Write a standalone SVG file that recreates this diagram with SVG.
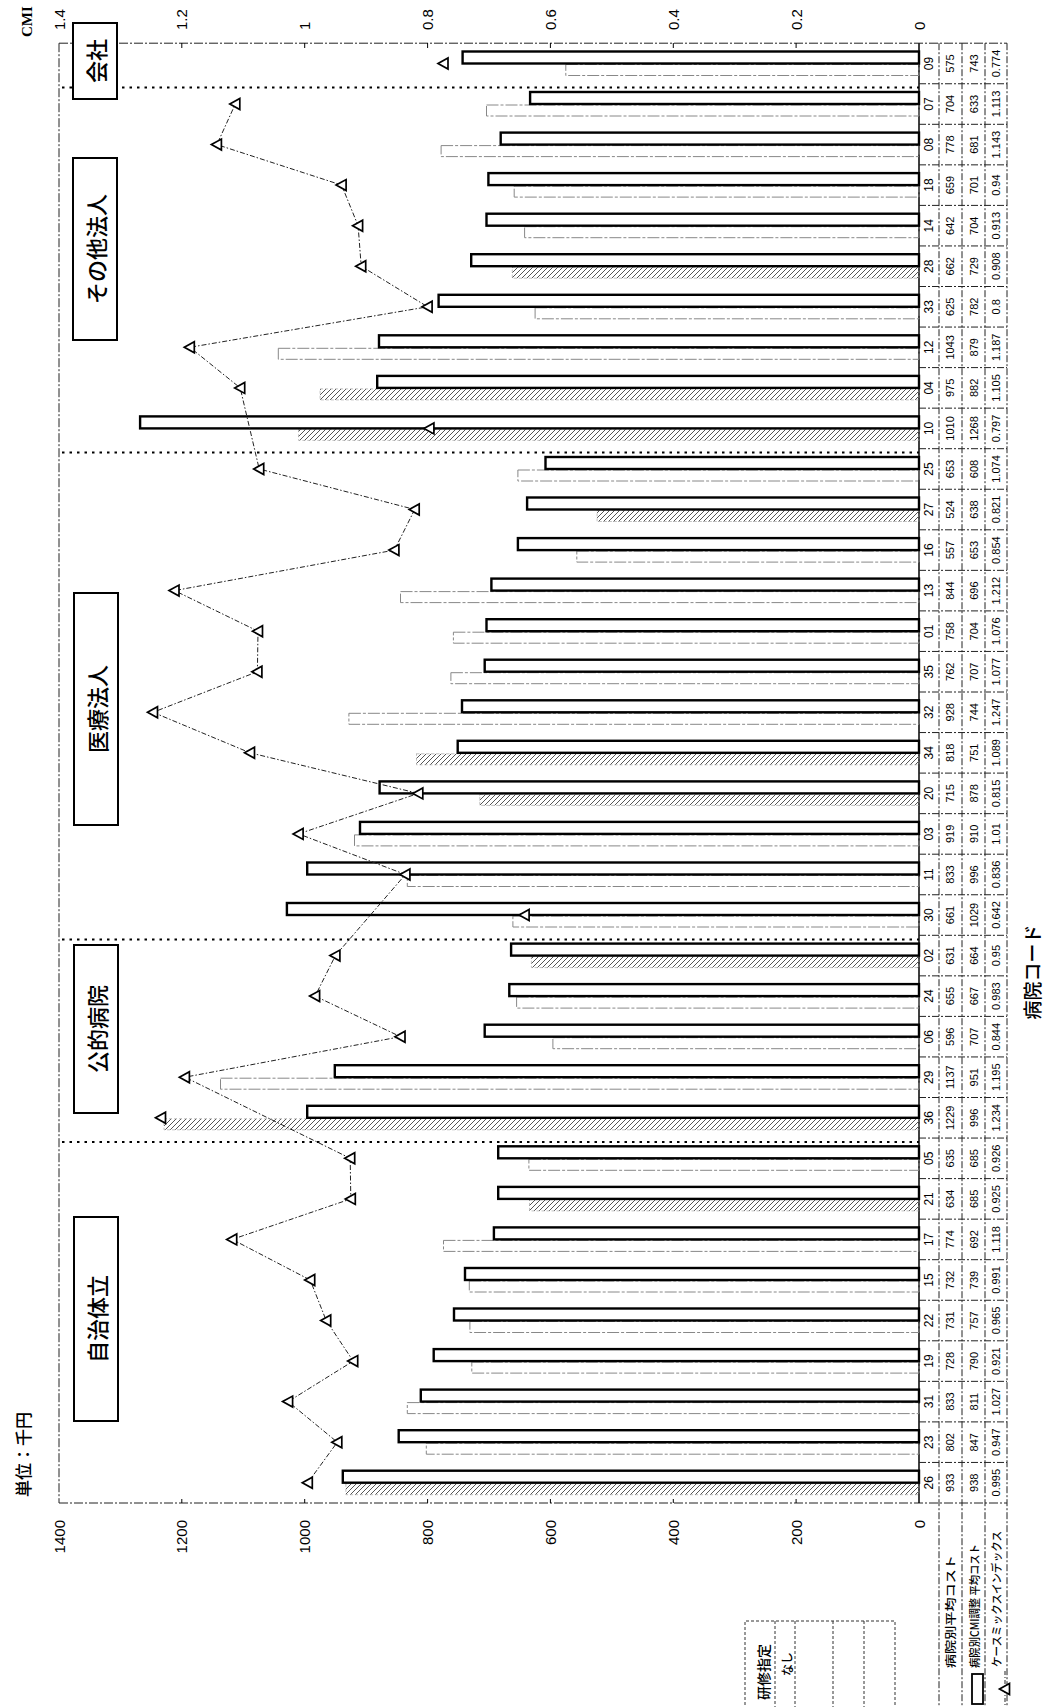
<svg xmlns="http://www.w3.org/2000/svg" width="1053" height="1707" viewBox="0 0 1053 1707">
<defs>
  <pattern id="hatch" patternUnits="userSpaceOnUse" width="5" height="5">
    <path d="M-1,6 L6,-1 M-1,1 L1,-1 M4,6 L6,4" stroke="#555" stroke-width="1"/>
  </pattern>
  <path id="tri" d="M-5.5,0 L4.5,-5.5 L4.5,5.5 Z" fill="#fff" stroke="#000" stroke-width="1.7"/>
</defs>
<style>
  text { fill: #000; }
  .num { font-family: "Liberation Sans", Arial, sans-serif; font-size: 15px; dominant-baseline: central; }
  .jp { font-family: "Noto Sans CJK JP", sans-serif; }
  .lbl { font-family: "Noto Sans CJK JP", sans-serif; font-size: 22px; font-weight: 500; text-anchor: middle; dominant-baseline: central; }
  .tb { font-family: "Liberation Sans", Arial, sans-serif; font-size: 11px; text-anchor: middle; dominant-baseline: central; }
  .cd { font-size: 12px; }
  .hd { font-family: "Noto Sans CJK JP", sans-serif; font-size: 11px; font-weight: 500; dominant-baseline: central; }
  .main { fill: #fff; stroke: #000; stroke-width: 2.4; }
  .hat { fill: url(#hatch); stroke: #999; stroke-width: 0.6; stroke-dasharray: 3 2; }
  .faint { fill: none; stroke: #888; stroke-width: 1; stroke-dasharray: 12 2 3 2; }
  .frame { fill: none; stroke: #222; stroke-width: 1; stroke-dasharray: 9 2 2 2; }
  .grid { fill: none; stroke: #222; stroke-width: 1; stroke-dasharray: 7 2 2 2; }
  .sep { fill: none; stroke: #000; stroke-width: 2; stroke-dasharray: 2.5 5; }
  .box { fill: #fff; stroke: #000; stroke-width: 2; }
</style>
<rect width="1053" height="1707" fill="#fff"/>

<!-- plot frame, value baseline and table rules -->
<g id="frame">
  <path class="frame" d="M59,43.2 V1503"/>
  <path class="frame" d="M59,43.2 H1007"/>
  <path class="frame" d="M59,1503 H1007"/>
  <path d="M919,43.2 V1503" stroke="#000" stroke-width="1.5" fill="none"/>
  <path class="grid" d="M939,43.2 V1707 M962,43.2 V1707 M985,43.2 V1707 M1007,43.2 V1707"/>
  <path class="grid" d="M919,1462.45H1007 M919,1421.9H1007 M919,1381.35H1007 M919,1340.8H1007 M919,1300.25H1007 M919,1259.7H1007 M919,1219.15H1007 M919,1178.6H1007 M919,1138.05H1007 M919,1097.5H1007 M919,1056.95H1007 M919,1016.4H1007 M919,975.85H1007 M919,935.3H1007 M919,894.75H1007 M919,854.2H1007 M919,813.65H1007 M919,773.1H1007 M919,732.55H1007 M919,692H1007 M919,651.45H1007 M919,610.9H1007 M919,570.35H1007 M919,529.8H1007 M919,489.25H1007 M919,448.7H1007 M919,408.15H1007 M919,367.6H1007 M919,327.05H1007 M919,286.5H1007 M919,245.95H1007 M919,205.4H1007 M919,164.85H1007 M919,124.3H1007 M919,83.75H1007"/>
  <!-- ticks: CMI axis along the top, cost axis along the bottom -->
  <path d="M181.8,43 v5 M304.7,43 v5 M427.6,43 v5 M550.4,43 v5 M673.3,43 v5 M796.1,43 v5 M181.8,1503 v-4 M304.7,1503 v-4 M427.6,1503 v-4 M550.4,1503 v-4 M673.3,1503 v-4 M796.1,1503 v-4" stroke="#000" stroke-width="1"/>
  <!-- group separators -->
  <path class="sep" d="M62,87.5 H919 M62,452.5 H919 M62,939.5 H919 M62,1142 H919"/>
</g>

<!-- cost axis (千円) -->
<g id="axis-cost">
  <text class="num" text-anchor="end" transform="translate(59 1520) rotate(-90)">1400</text>
  <text class="num" text-anchor="end" transform="translate(181.8 1520) rotate(-90)">1200</text>
  <text class="num" text-anchor="end" transform="translate(304.7 1520) rotate(-90)">1000</text>
  <text class="num" text-anchor="end" transform="translate(427.6 1520) rotate(-90)">800</text>
  <text class="num" text-anchor="end" transform="translate(550.4 1520) rotate(-90)">600</text>
  <text class="num" text-anchor="end" transform="translate(673.3 1520) rotate(-90)">400</text>
  <text class="num" text-anchor="end" transform="translate(796.1 1520) rotate(-90)">200</text>
  <text class="num" text-anchor="end" transform="translate(919 1520) rotate(-90)">0</text>
  <text class="jp" font-size="17" font-weight="500" dominant-baseline="central" transform="translate(22 1497) rotate(-90)">単位：千円</text>
</g>

<!-- CMI axis -->
<g id="axis-cmi">
  <text class="num" transform="translate(59 30) rotate(-90)">1.4</text>
  <text class="num" transform="translate(181.8 30) rotate(-90)">1.2</text>
  <text class="num" transform="translate(304.7 30) rotate(-90)">1</text>
  <text class="num" transform="translate(427.6 30) rotate(-90)">0.8</text>
  <text class="num" transform="translate(550.4 30) rotate(-90)">0.6</text>
  <text class="num" transform="translate(673.3 30) rotate(-90)">0.4</text>
  <text class="num" transform="translate(796.1 30) rotate(-90)">0.2</text>
  <text class="num" transform="translate(919 30) rotate(-90)">0</text>
  <text font-family="Liberation Serif, serif" font-weight="bold" font-size="15" dominant-baseline="central" transform="translate(27 37) rotate(-90)">CMI</text>
</g>

<!-- hospital average cost (second bar of each pair) -->
<g id="bars-avg">
  <rect class="hat" x="345.9" y="1483.7" width="573.1" height="11"/>
  <rect class="faint" x="426.3" y="1443.2" width="492.7" height="11"/>
  <rect class="faint" x="407.3" y="1402.6" width="511.7" height="11"/>
  <rect class="faint" x="471.8" y="1362.1" width="447.2" height="11"/>
  <rect class="faint" x="469.9" y="1321.5" width="449.1" height="11"/>
  <rect class="faint" x="469.3" y="1281" width="449.7" height="11"/>
  <rect class="faint" x="443.5" y="1240.4" width="475.5" height="11"/>
  <rect class="hat" x="529.5" y="1199.9" width="389.5" height="11"/>
  <rect class="faint" x="528.9" y="1159.3" width="390.1" height="11"/>
  <rect class="hat" x="164" y="1118.8" width="755" height="11"/>
  <rect class="faint" x="220.5" y="1078.2" width="698.5" height="11"/>
  <rect class="faint" x="552.9" y="1037.7" width="366.1" height="11"/>
  <rect class="faint" x="516.6" y="997.1" width="402.4" height="11"/>
  <rect class="hat" x="531.4" y="956.6" width="387.6" height="11"/>
  <rect class="faint" x="512.9" y="916" width="406.1" height="11"/>
  <rect class="faint" x="407.3" y="875.5" width="511.7" height="11"/>
  <rect class="faint" x="354.5" y="834.9" width="564.5" height="11"/>
  <rect class="hat" x="479.8" y="794.4" width="439.2" height="11"/>
  <rect class="hat" x="416.5" y="753.8" width="502.5" height="11"/>
  <rect class="faint" x="348.9" y="713.3" width="570.1" height="11"/>
  <rect class="faint" x="450.9" y="672.7" width="468.1" height="11"/>
  <rect class="faint" x="453.4" y="632.2" width="465.6" height="11"/>
  <rect class="faint" x="400.5" y="591.6" width="518.5" height="11"/>
  <rect class="faint" x="576.8" y="551.1" width="342.2" height="11"/>
  <rect class="hat" x="597.1" y="510.5" width="321.9" height="11"/>
  <rect class="faint" x="517.9" y="470" width="401.1" height="11"/>
  <rect class="hat" x="298.6" y="429.4" width="620.4" height="11"/>
  <rect class="hat" x="320.1" y="388.9" width="598.9" height="11"/>
  <rect class="faint" x="278.3" y="348.3" width="640.7" height="11"/>
  <rect class="faint" x="535.1" y="307.8" width="383.9" height="11"/>
  <rect class="hat" x="512.3" y="267.2" width="406.7" height="11"/>
  <rect class="faint" x="524.6" y="226.7" width="394.4" height="11"/>
  <rect class="faint" x="514.2" y="186.1" width="404.8" height="11"/>
  <rect class="faint" x="441.1" y="145.6" width="477.9" height="11"/>
  <rect class="faint" x="486.5" y="105" width="432.5" height="11"/>
  <rect class="faint" x="565.8" y="64.5" width="353.2" height="11"/>
</g>

<!-- CMI-adjusted average cost -->
<g id="bars-adj">
  <rect class="main" x="342.8" y="1470.7" width="576.2" height="12"/>
  <rect class="main" x="398.7" y="1430.2" width="520.3" height="12"/>
  <rect class="main" x="420.8" y="1389.6" width="498.2" height="12"/>
  <rect class="main" x="433.7" y="1349.1" width="485.3" height="12"/>
  <rect class="main" x="454" y="1308.5" width="465" height="12"/>
  <rect class="main" x="465" y="1268" width="454" height="12"/>
  <rect class="main" x="493.9" y="1227.4" width="425.1" height="12"/>
  <rect class="main" x="498.2" y="1186.9" width="420.8" height="12"/>
  <rect class="main" x="498.2" y="1146.3" width="420.8" height="12"/>
  <rect class="main" x="307.2" y="1105.8" width="611.8" height="12"/>
  <rect class="main" x="334.8" y="1065.2" width="584.2" height="12"/>
  <rect class="main" x="484.7" y="1024.7" width="434.3" height="12"/>
  <rect class="main" x="509.3" y="984.1" width="409.7" height="12"/>
  <rect class="main" x="511.1" y="943.6" width="407.9" height="12"/>
  <rect class="main" x="286.9" y="903" width="632.1" height="12"/>
  <rect class="main" x="307.2" y="862.5" width="611.8" height="12"/>
  <rect class="main" x="360" y="821.9" width="559" height="12"/>
  <rect class="main" x="379.6" y="781.4" width="539.4" height="12"/>
  <rect class="main" x="457.7" y="740.8" width="461.3" height="12"/>
  <rect class="main" x="462" y="700.3" width="457" height="12"/>
  <rect class="main" x="484.7" y="659.7" width="434.3" height="12"/>
  <rect class="main" x="486.5" y="619.2" width="432.5" height="12"/>
  <rect class="main" x="491.4" y="578.6" width="427.6" height="12"/>
  <rect class="main" x="517.9" y="538.1" width="401.1" height="12"/>
  <rect class="main" x="527.1" y="497.5" width="391.9" height="12"/>
  <rect class="main" x="545.5" y="457" width="373.5" height="12"/>
  <rect class="main" x="140.1" y="416.4" width="778.9" height="12"/>
  <rect class="main" x="377.2" y="375.9" width="541.8" height="12"/>
  <rect class="main" x="379" y="335.3" width="540" height="12"/>
  <rect class="main" x="438.6" y="294.8" width="480.4" height="12"/>
  <rect class="main" x="471.2" y="254.2" width="447.8" height="12"/>
  <rect class="main" x="486.5" y="213.7" width="432.5" height="12"/>
  <rect class="main" x="488.4" y="173.1" width="430.6" height="12"/>
  <rect class="main" x="500.7" y="132.6" width="418.3" height="12"/>
  <rect class="main" x="530.1" y="92" width="388.9" height="12"/>
  <rect class="main" x="462.6" y="51.5" width="456.4" height="12"/>
</g>

<!-- case mix index line -->
<g id="connectors">
  <polyline fill="none" stroke="#222" stroke-width="1" stroke-dasharray="5 2 1.5 2" points="307.8,1482.7 337.3,1442.2 288.1,1401.6 353.2,1361.1 326.2,1320.5 310.2,1280 232.2,1239.4 350.8,1198.9 350.2,1158.3 184.9,1077.2 400.5,1036.7 315.1,996.1 335.4,955.6 405.4,874.5 298.6,833.9 418.3,793.4 250,752.8 153,712.3 257.4,671.7 258,631.2 174.5,590.6 394.4,550.1 414.7,509.5 259.2,469 240.2,387.9 189.8,347.3 427.6,306.8 361.2,266.2 358.1,225.7 341.6,185.1 216.9,144.6 235.3,104"/>
</g>
<g id="cmi-markers">
  <use href="#tri" x="307.8" y="1482.7"/>
  <use href="#tri" x="337.3" y="1442.2"/>
  <use href="#tri" x="288.1" y="1401.6"/>
  <use href="#tri" x="353.2" y="1361.1"/>
  <use href="#tri" x="326.2" y="1320.5"/>
  <use href="#tri" x="310.2" y="1280"/>
  <use href="#tri" x="232.2" y="1239.4"/>
  <use href="#tri" x="350.8" y="1198.9"/>
  <use href="#tri" x="350.2" y="1158.3"/>
  <use href="#tri" x="161" y="1117.8"/>
  <use href="#tri" x="184.9" y="1077.2"/>
  <use href="#tri" x="400.5" y="1036.7"/>
  <use href="#tri" x="315.1" y="996.1"/>
  <use href="#tri" x="335.4" y="955.6"/>
  <use href="#tri" x="524.6" y="915"/>
  <use href="#tri" x="405.4" y="874.5"/>
  <use href="#tri" x="298.6" y="833.9"/>
  <use href="#tri" x="418.3" y="793.4"/>
  <use href="#tri" x="250" y="752.8"/>
  <use href="#tri" x="153" y="712.3"/>
  <use href="#tri" x="257.4" y="671.7"/>
  <use href="#tri" x="258" y="631.2"/>
  <use href="#tri" x="174.5" y="590.6"/>
  <use href="#tri" x="394.4" y="550.1"/>
  <use href="#tri" x="414.7" y="509.5"/>
  <use href="#tri" x="259.2" y="469"/>
  <use href="#tri" x="429.4" y="428.4"/>
  <use href="#tri" x="240.2" y="387.9"/>
  <use href="#tri" x="189.8" y="347.3"/>
  <use href="#tri" x="427.6" y="306.8"/>
  <use href="#tri" x="361.2" y="266.2"/>
  <use href="#tri" x="358.1" y="225.7"/>
  <use href="#tri" x="341.6" y="185.1"/>
  <use href="#tri" x="216.9" y="144.6"/>
  <use href="#tri" x="235.3" y="104"/>
  <use href="#tri" x="443.5" y="63.5"/>
</g>

<!-- ownership group labels -->
<g id="grp-kaisha">
  <rect class="box" x="73" y="23" width="44" height="76"/>
  <text class="lbl" transform="translate(95 61) rotate(-90)">会社</text>
</g>
<g id="grp-sonota">
  <rect class="box" x="73" y="158" width="44" height="182"/>
  <text class="lbl" transform="translate(95 249) rotate(-90)">その他法人</text>
</g>
<g id="grp-iryo">
  <rect class="box" x="74" y="593" width="44" height="232"/>
  <text class="lbl" transform="translate(96 709) rotate(-90)">医療法人</text>
</g>
<g id="grp-koteki">
  <rect class="box" x="74" y="945" width="44" height="168"/>
  <text class="lbl" transform="translate(96 1029) rotate(-90)">公的病院</text>
</g>
<g id="grp-jichitai">
  <rect class="box" x="74" y="1217" width="44" height="204"/>
  <text class="lbl" transform="translate(96 1319) rotate(-90)">自治体立</text>
</g>

<!-- data table, written along the rotated category axis -->
<g id="table" transform="matrix(0 -1 1 0 0 1707)">
  <text class="tb cd" y="929"><tspan x="224.3">26</tspan><tspan x="264.8">23</tspan><tspan x="305.4">31</tspan><tspan x="345.9">19</tspan><tspan x="386.5">22</tspan><tspan x="427">15</tspan><tspan x="467.6">17</tspan><tspan x="508.1">21</tspan><tspan x="548.7">05</tspan><tspan x="589.2">36</tspan><tspan x="629.8">29</tspan><tspan x="670.3">06</tspan><tspan x="710.9">24</tspan><tspan x="751.4">02</tspan><tspan x="792">30</tspan><tspan x="832.5">11</tspan><tspan x="873.1">03</tspan><tspan x="913.6">20</tspan><tspan x="954.2">34</tspan><tspan x="994.7">32</tspan><tspan x="1035.3">35</tspan><tspan x="1075.8">01</tspan><tspan x="1116.4">13</tspan><tspan x="1156.9">16</tspan><tspan x="1197.5">27</tspan><tspan x="1238">25</tspan><tspan x="1278.6">10</tspan><tspan x="1319.1">04</tspan><tspan x="1359.7">12</tspan><tspan x="1400.2">33</tspan><tspan x="1440.8">28</tspan><tspan x="1481.3">14</tspan><tspan x="1521.9">18</tspan><tspan x="1562.4">08</tspan><tspan x="1603">07</tspan><tspan x="1643.5">09</tspan></text>
  <text class="tb" y="950"><tspan x="224.3">933</tspan><tspan x="264.8">802</tspan><tspan x="305.4">833</tspan><tspan x="345.9">728</tspan><tspan x="386.5">731</tspan><tspan x="427">732</tspan><tspan x="467.6">774</tspan><tspan x="508.1">634</tspan><tspan x="548.7">635</tspan><tspan x="589.2">1229</tspan><tspan x="629.8">1137</tspan><tspan x="670.3">596</tspan><tspan x="710.9">655</tspan><tspan x="751.4">631</tspan><tspan x="792">661</tspan><tspan x="832.5">833</tspan><tspan x="873.1">919</tspan><tspan x="913.6">715</tspan><tspan x="954.2">818</tspan><tspan x="994.7">928</tspan><tspan x="1035.3">762</tspan><tspan x="1075.8">758</tspan><tspan x="1116.4">844</tspan><tspan x="1156.9">557</tspan><tspan x="1197.5">524</tspan><tspan x="1238">653</tspan><tspan x="1278.6">1010</tspan><tspan x="1319.1">975</tspan><tspan x="1359.7">1043</tspan><tspan x="1400.2">625</tspan><tspan x="1440.8">662</tspan><tspan x="1481.3">642</tspan><tspan x="1521.9">659</tspan><tspan x="1562.4">778</tspan><tspan x="1603">704</tspan><tspan x="1643.5">575</tspan></text>
  <text class="tb" y="974"><tspan x="224.3">938</tspan><tspan x="264.8">847</tspan><tspan x="305.4">811</tspan><tspan x="345.9">790</tspan><tspan x="386.5">757</tspan><tspan x="427">739</tspan><tspan x="467.6">692</tspan><tspan x="508.1">685</tspan><tspan x="548.7">685</tspan><tspan x="589.2">996</tspan><tspan x="629.8">951</tspan><tspan x="670.3">707</tspan><tspan x="710.9">667</tspan><tspan x="751.4">664</tspan><tspan x="792">1029</tspan><tspan x="832.5">996</tspan><tspan x="873.1">910</tspan><tspan x="913.6">878</tspan><tspan x="954.2">751</tspan><tspan x="994.7">744</tspan><tspan x="1035.3">707</tspan><tspan x="1075.8">704</tspan><tspan x="1116.4">696</tspan><tspan x="1156.9">653</tspan><tspan x="1197.5">638</tspan><tspan x="1238">608</tspan><tspan x="1278.6">1268</tspan><tspan x="1319.1">882</tspan><tspan x="1359.7">879</tspan><tspan x="1400.2">782</tspan><tspan x="1440.8">729</tspan><tspan x="1481.3">704</tspan><tspan x="1521.9">701</tspan><tspan x="1562.4">681</tspan><tspan x="1603">633</tspan><tspan x="1643.5">743</tspan></text>
  <text class="tb" y="996"><tspan x="224.3">0.995</tspan><tspan x="264.8">0.947</tspan><tspan x="305.4">1.027</tspan><tspan x="345.9">0.921</tspan><tspan x="386.5">0.965</tspan><tspan x="427">0.991</tspan><tspan x="467.6">1.118</tspan><tspan x="508.1">0.925</tspan><tspan x="548.7">0.926</tspan><tspan x="589.2">1.234</tspan><tspan x="629.8">1.195</tspan><tspan x="670.3">0.844</tspan><tspan x="710.9">0.983</tspan><tspan x="751.4">0.95</tspan><tspan x="792">0.642</tspan><tspan x="832.5">0.836</tspan><tspan x="873.1">1.01</tspan><tspan x="913.6">0.815</tspan><tspan x="954.2">1.089</tspan><tspan x="994.7">1.247</tspan><tspan x="1035.3">1.077</tspan><tspan x="1075.8">1.076</tspan><tspan x="1116.4">1.212</tspan><tspan x="1156.9">0.854</tspan><tspan x="1197.5">0.821</tspan><tspan x="1238">1.074</tspan><tspan x="1278.6">0.797</tspan><tspan x="1319.1">1.105</tspan><tspan x="1359.7">1.187</tspan><tspan x="1400.2">0.8</tspan><tspan x="1440.8">0.908</tspan><tspan x="1481.3">0.913</tspan><tspan x="1521.9">0.94</tspan><tspan x="1562.4">1.143</tspan><tspan x="1603">1.113</tspan><tspan x="1643.5">0.774</tspan></text>
  <!-- row headers -->
  <text class="hd" x="39" y="950" textLength="113" lengthAdjust="spacingAndGlyphs">病院別平均コスト</text>
  <text class="hd" x="39" y="974" textLength="124" lengthAdjust="spacingAndGlyphs">病院別CMI調整 平均コスト</text>
  <text class="hd" x="40" y="996" textLength="136" lengthAdjust="spacingAndGlyphs">ケースミックスインデックス</text>
  <!-- category axis title -->
  <text class="jp" x="735" y="1031" font-size="19" font-weight="500" text-anchor="middle" dominant-baseline="central">病院コード</text>
</g>

<!-- legend keys -->
<g id="legend">
  <rect x="972" y="1674" width="11" height="30" fill="#fff" stroke="#000" stroke-width="1.8"/>
  <path d="M1005,1671 V1707" stroke="#222" stroke-width="1" stroke-dasharray="4 2 1 2"/>
  <use href="#tri" x="1005" y="1689"/>
</g>

<!-- training designation box -->
<g id="kenshu">
  <path d="M745,1710 V1621 H895 V1710 M775,1621 V1707 M795,1621 V1707 M833,1621 V1707 M864,1621 V1707" fill="none" stroke="#333" stroke-width="1" stroke-dasharray="3 2"/>
  <text class="jp" font-size="14" font-weight="500" text-anchor="end" dominant-baseline="central" transform="translate(763 1644) rotate(-90)">研修指定</text>
  <text class="jp" font-size="12" font-weight="500" text-anchor="end" dominant-baseline="central" transform="translate(786 1652) rotate(-90)">なし</text>
</g>
</svg>
